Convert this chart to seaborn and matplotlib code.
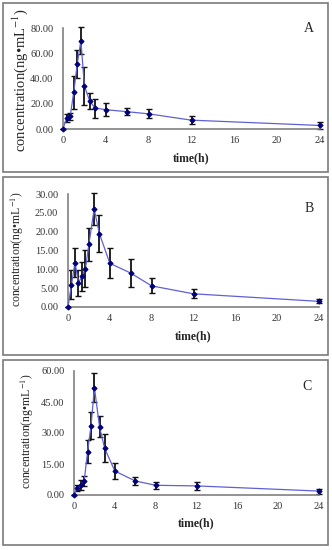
import matplotlib
matplotlib.use("Agg")
import matplotlib.pyplot as plt
from matplotlib.patches import Rectangle
import seaborn as sns
import pandas as pd

sns.set_theme(style="white")
plt.rcParams['font.family'] = ['Liberation Serif', 'DejaVu Serif']
plt.rcParams['mathtext.fontset'] = 'stix'

# sampling times (h)
time_h = [0, 0.33, 0.67, 1, 1.33, 1.67, 2, 2.5, 3, 4, 6, 8, 12, 24]

# panel A
conc_a = [0, 8.7, 10, 29, 51.5, 70, 34, 22, 16.6, 15.3, 13.7, 12, 7, 2.8]
sd_a = [0, 3.5, 3, 13, 11, 10.5, 15, 6.5, 7.5, 5, 3, 3.5, 3.3, 2.5]

# panel B
conc_b = [0, 5.9, 11.8, 6.4, 8.1, 10.2, 16.7, 26, 19.5, 11.6, 9, 5.6, 3.5, 1.5]
sd_b = [0, 3.9, 3.9, 3.5, 3.9, 5, 4.4, 4.2, 5, 4, 3.8, 2, 1.2, 0.5]

# panel C
conc_c = [0, 3.5, 4.8, 6.9, 21, 33.5, 52, 33, 22.6, 11.6, 6.8, 4.7, 4.4, 1.9]
sd_c = [0, 1.5, 2.4, 2.5, 5.7, 6.5, 6.8, 5, 6.8, 4, 1.9, 1.7, 2, 1.2]

labels = ['A', 'B', 'C']
y_max = [80, 30, 60]
y_step = [20, 5, 15]

W, H = 332, 550
fig = plt.figure(figsize=(W / 100, H / 100), dpi=100)

# pixel layout: (left, right, top of y range, bottom of y range)
axes_px = [(63, 320, 28, 129), (68, 319, 194, 307), (74, 319, 371, 495)]
boxes_px = [(3, 328, 3, 172), (3, 328, 177, 355), (3, 328, 360, 545)]
ylabel_x = [20, 17, 27]
ylabel_cy = [80, 249, 431]
ylabel_size = [10.5, 8.5, 8.5]
xlabel_y = [158, 336, 523]
letter_pos = [(309, 29), (309, 208), (307, 387)]

datasets = [(conc_a, sd_a), (conc_b, sd_b), (conc_c, sd_c)]

for i, (conc, sd) in enumerate(datasets):
    x0, x1, yt, yb = axes_px[i]
    ax = fig.add_axes([x0 / W, 1 - yb / H, (x1 - x0) / W, (yb - yt) / H])
    df = pd.DataFrame({'time': time_h, 'conc': conc, 'sd': sd})

    ax.errorbar(df['time'], df['conc'], yerr=df['sd'], fmt='none',
                ecolor='#111111', elinewidth=1.3, capsize=2.4, capthick=1.0,
                zorder=2, clip_on=False)
    sns.lineplot(data=df, x='time', y='conc', ax=ax, color='#6060d6',
                 linewidth=0.9, marker='D', markersize=2.6,
                 markerfacecolor='#00007a', markeredgecolor='#00007a',
                 zorder=3, clip_on=False)

    ax.set_xlim(0, 24)
    ax.set_ylim(0, y_max[i])
    ax.set_xticks(range(0, 25, 4))
    yt_vals = list(range(0, y_max[i] + 1, y_step[i]))
    ax.set_yticks(yt_vals)
    ax.set_yticklabels([f"{v:.2f}" for v in yt_vals])
    ax.set_xlabel('')
    ax.set_ylabel('')
    for s in ['top', 'right']:
        ax.spines[s].set_visible(False)
    for s in ['left', 'bottom']:
        ax.spines[s].set_color('#808080')
        ax.spines[s].set_linewidth(1.2)
    ax.tick_params(axis='both', direction='inout', length=4, width=1,
                   color='#606060', labelsize=7.5, labelcolor='#333333', pad=3)
    ax.tick_params(axis='y', pad=5)
    ax.patch.set_alpha(0)

    fig.text(ylabel_x[i] / W, 1 - ylabel_cy[i] / H,
             'concentration(ng\u2022mL$^{-1}$)',
             rotation=90, ha='center', va='center', fontsize=ylabel_size[i])
    fig.text((x0 + x1) / 2 / W, 1 - xlabel_y[i] / H, 'time(h)',
             ha='center', va='center', fontsize=8.5, fontweight='bold')
    lx, ly = letter_pos[i]
    fig.text(lx / W, 1 - ly / H, labels[i], ha='center', va='center',
             fontsize=10)

    bx0, bx1, by0, by1 = boxes_px[i]
    fig.patches.append(Rectangle((bx0 / W, 1 - by1 / H), (bx1 - bx0) / W,
                                 (by1 - by0) / H, transform=fig.transFigure,
                                 fill=False, edgecolor='#7a7a7a', linewidth=1.2))

fig.savefig('out.png', dpi=100)
